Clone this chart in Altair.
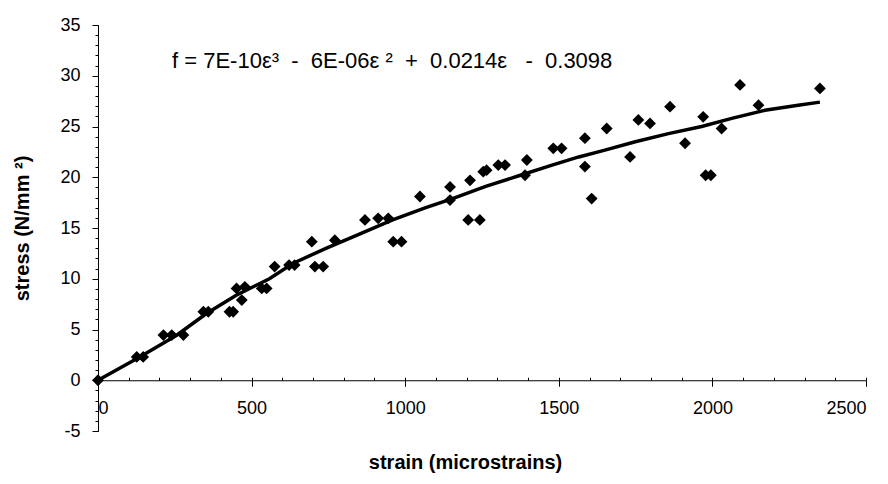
import altair as alt
import pandas as pd

# measured points (strain in microstrains, stress in N/mm^2)
strain = [0, 126, 147, 213, 240, 278, 343, 359, 428, 440, 451, 478, 468, 533, 549,
          575, 622, 640, 696, 706, 733, 771, 869, 912, 945, 961, 988, 1048, 1146, 1146,
          1211, 1205, 1243, 1254, 1265, 1303, 1325, 1396, 1390, 1482, 1509, 1585, 1585,
          1607, 1656, 1732, 1759, 1797, 1862, 1911, 1970, 1978, 1995, 2030, 2090, 2150, 2350]
stress = [0, 2.3, 2.3, 4.45, 4.45, 4.45, 6.75, 6.75, 6.75, 6.75, 9.05, 9.2, 7.9, 9.05, 9.05,
          11.2, 11.35, 11.35, 13.65, 11.2, 11.2, 13.8, 15.8, 15.95, 15.95, 13.65, 13.65, 18.1, 19.05, 17.75,
          19.7, 15.8, 15.8, 20.55, 20.7, 21.2, 21.2, 21.7, 20.2, 22.85, 22.85, 23.85, 21.05,
          17.9, 24.8, 22.0, 25.65, 25.3, 26.95, 23.35, 25.95, 20.2, 20.2, 24.8, 29.1, 27.1, 28.75]

# trend line
fit_strain = [0, 136, 256, 353, 450, 558, 634, 742, 851, 959, 1067, 1154, 1262, 1370,
              1478, 1565, 1641, 1749, 1857, 1965, 2063, 2171, 2279, 2350]
fit_stress = [0, 2.3, 4.44, 6.58, 8.38, 10.0, 11.5, 13.0, 14.4, 15.8, 17.0, 17.9, 19.1, 20.15,
              21.2, 22.0, 22.6, 23.5, 24.3, 25.0, 25.8, 26.6, 27.1, 27.4]

x_major = [0, 500, 1000, 1500, 2000, 2500]
x_minor = list(range(0, 2501, 100))
y_major = [-5, 0, 5, 10, 15, 20, 25, 30, 35]
y_minor = list(range(-5, 36, 1))

NB = "\u00a0"
equation = ("f = 7E-10\u03b5\u00b3" + NB + " -" + NB + " 6E-06\u03b5 \u00b2" + NB + " +" + NB
            + " 0.0214\u03b5" + NB + NB + " -" + NB + " 0.3098")

W, H = 768, 406
FONT = "Liberation Sans"

pts = pd.DataFrame({"strain": strain, "stress": stress})
fit = pd.DataFrame({"strain": fit_strain, "stress": fit_stress})

xscale = alt.Scale(domain=[0, 2500], nice=False, zero=False)
yscale = alt.Scale(domain=[-5, 35], nice=False, zero=False)

xaxis = alt.Axis(
    orient="bottom",
    values=x_major,
    labelExpr="'' + datum.value",
    labelOverlap=False,
    tickSize=6,
    offset=-5 * H / 40,
    labelPadding=13,
    labelFont=FONT, labelFontSize=18, labelColor="black",
    title="strain (microstrains)",
    titleFont=FONT, titleFontSize=20, titleFontWeight="bold", titleColor="black",
    titleX=367, titlePadding=35,
    domainColor="black", tickColor="black", grid=False,
)
yaxis = alt.Axis(
    orient="left",
    values=y_major,
    labelExpr="'' + datum.value",
    labelOverlap=False,
    tickSize=6,
    labelPadding=12,
    labelFont=FONT, labelFontSize=18, labelColor="black",
    title="stress (N/mm \u00b2)",
    titleFont=FONT, titleFontSize=20, titleFontWeight="bold", titleColor="black",
    titlePadding=27,
    domainColor="black", tickColor="black", grid=False,
)
xaxis_minor = alt.Axis(
    orient="top", values=x_minor, labels=False, domain=False, tickSize=3,
    offset=-35 * H / 40, tickColor="black", grid=False, title=None,
)
yaxis_minor = alt.Axis(
    orient="left", values=y_minor, labels=False, domain=False, tickSize=3,
    tickColor="black", grid=False, title=None,
)

line = alt.Chart(fit).mark_line(color="black", strokeWidth=3.5).encode(
    x=alt.X("strain:Q", scale=xscale, axis=xaxis),
    y=alt.Y("stress:Q", scale=yscale, axis=yaxis),
)
points = alt.Chart(pts).mark_point(shape="diamond", filled=True, size=140, color="black", opacity=1).encode(
    x=alt.X("strain:Q", scale=xscale, axis=xaxis_minor),
    y=alt.Y("stress:Q", scale=yscale, axis=yaxis_minor),
)
eq = alt.Chart(pd.DataFrame({"t": [equation]})).mark_text(
    font=FONT, fontSize=22, align="left", baseline="middle", color="black"
).encode(text="t:N", x=alt.value(74), y=alt.value(36))

chart = alt.layer(line, points, eq).resolve_axis(x="independent", y="independent").properties(
    width=W, height=H,
    padding={"left": 90, "top": 17, "right": 10, "bottom": 52},
    autosize="none",
).configure_view(stroke=None)

chart.save("out.html", embed_options={"renderer": "svg", "actions": False})
